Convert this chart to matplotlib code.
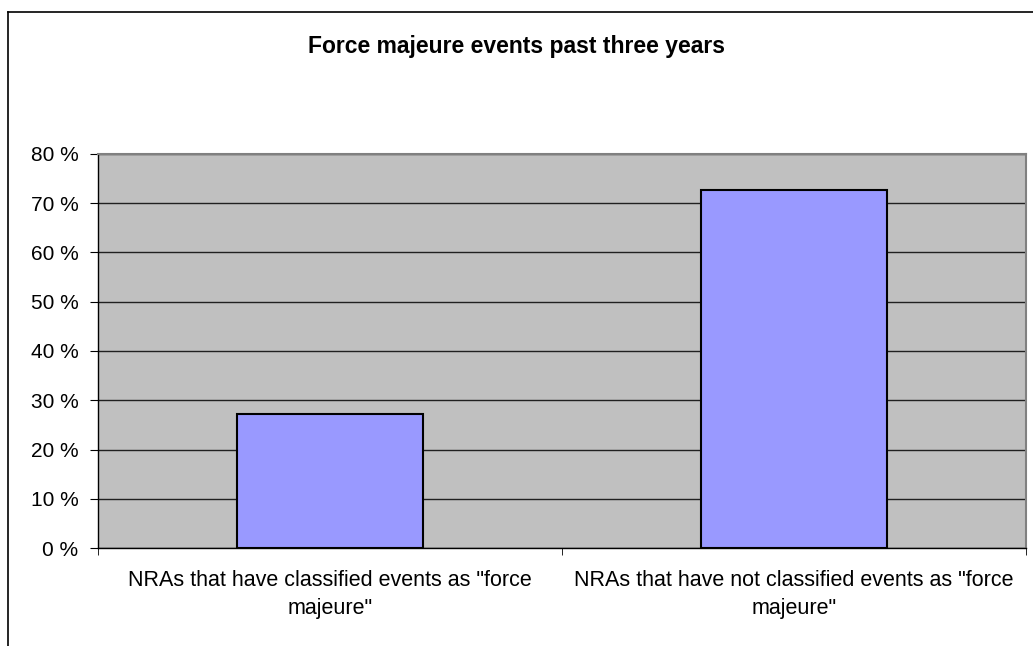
import matplotlib.pyplot as plt
from matplotlib.lines import Line2D

plt.rcParams['font.family'] = ['Liberation Sans', 'DejaVu Sans']

# survey share per answer, percent
categories = ['NRAs that have classified events as "force\nmajeure"',
              'NRAs that have not classified events as "force\nmajeure"']
shares = [27.27, 72.73]
yticks = [0, 10, 20, 30, 40, 50, 60, 70, 80]

fig = plt.figure(figsize=(10.33, 6.46), dpi=100)
ax = fig.add_axes([98 / 1033, 1 - 548 / 646, 928 / 1033, 394 / 646])

ax.set_facecolor('#c0c0c0')
x = range(len(categories))
ax.bar(x, shares, width=0.4, color='#9999ff', edgecolor='black', linewidth=1.5, zorder=3)

ax.set_xlim(-0.5, 1.5)
ax.set_ylim(0, 80)
ax.set_yticks(yticks)
ax.set_yticklabels([f'{v} %' for v in yticks], fontsize=15)
ax.yaxis.grid(True, color='#202020', linewidth=1, zorder=1)
ax.set_axisbelow(True)

ax.set_xticks(list(x))
ax.set_xticklabels(categories, fontsize=15.5, linespacing=1.45)
ax.tick_params(axis='x', length=0, pad=16)
ax.set_xticks([-0.5, 0.5, 1.5], minor=True)
ax.tick_params(axis='x', which='minor', length=5, direction='out', color='black')
ax.tick_params(axis='y', length=6, direction='out', pad=8)

for side in ['top', 'right']:
    ax.spines[side].set_color('#808080')
    ax.spines[side].set_linewidth(1.5)
for side in ['left', 'bottom']:
    ax.spines[side].set_color('black')
    ax.spines[side].set_linewidth(1)

fig.text(0.5, 1 - 47 / 646, 'Force majeure events past three years',
         ha='center', va='center', fontsize=16.5, fontweight='bold')

# chart border, left and top edges
fig.add_artist(Line2D([8 / 1033, 8 / 1033], [0, 1 - 12 / 646], color='black', linewidth=1.2))
fig.add_artist(Line2D([8 / 1033, 1], [1 - 12 / 646, 1 - 12 / 646], color='black', linewidth=1.2))

fig.savefig('out.png', dpi=100)
